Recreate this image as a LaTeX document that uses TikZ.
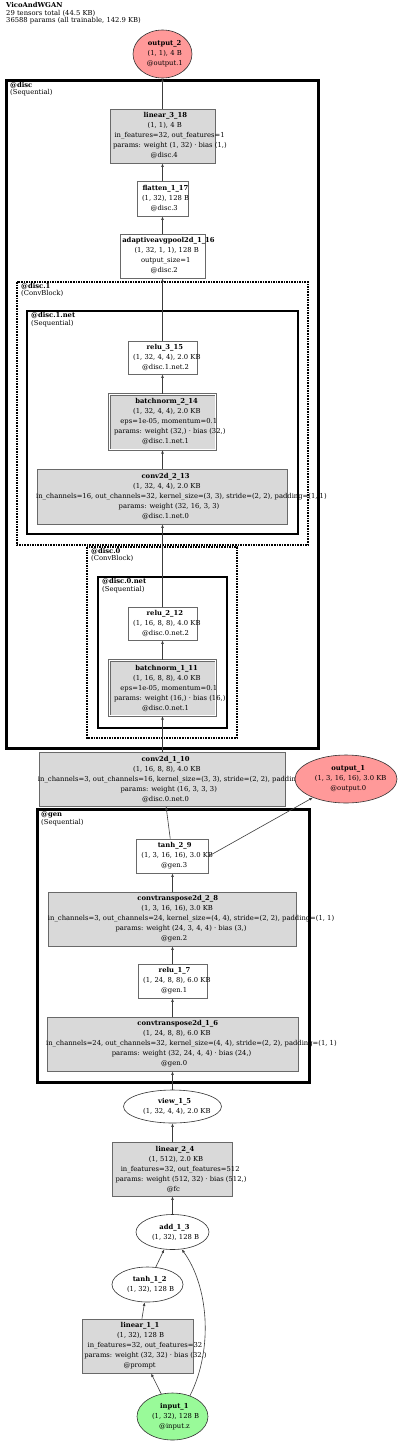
\documentclass[tikz,border=0pt]{standalone}
\usepackage{fontspec}
\setmainfont{DejaVu Serif}
\usetikzlibrary{shapes.geometric,arrows.meta}
\definecolor{boxgray}{RGB}{105,105,105}
\definecolor{paramgray}{RGB}{217,217,217}
\definecolor{outred}{RGB}{255,153,153}
\definecolor{ingreen}{RGB}{153,250,153}
\definecolor{edgecol}{RGB}{60,60,60}
\newlength\nlw
\newcommand\nline[1]{\settowidth{\nlw}{#1}\makebox[0pt][l]{\hspace{-0.435\nlw}#1}}
\tikzset{
  nfont/.style={font=\fontsize{6.8}{10}\selectfont},
  lfont/.style={font=\fontsize{6.8}{7.6}\selectfont},
  box/.style={rectangle, draw=boxgray, line width=0.7pt, fill=white, inner sep=0pt, align=center, nfont},
  pbox/.style={box, fill=paramgray},
  bnbox/.style={pbox, double=white, double distance=1.3pt, line width=0.6pt},
  ell/.style={ellipse, draw=black!80, line width=0.6pt, fill=white, inner sep=0pt, align=center, nfont},
  outell/.style={ell, fill=outred},
  inell/.style={ell, fill=ingreen},
  edge/.style={draw=edgecol, line width=0.6pt, -{Latex[length=3.6pt,width=2.8pt]}},
  clus/.style={draw=black, line width=3pt},
  subclus/.style={draw=black, line width=2pt},
  dotclus/.style={draw=black, line width=2.6pt, dash pattern=on 1.6pt off 1pt},
  clabel/.style={anchor=north west, inner sep=0pt, align=left, lfont},
}
\begin{document}
\begin{tikzpicture}[x=1pt,y=-1pt]
\useasboundingbox (0,0) rectangle (400,1443);
\fill[white] (0,0) rectangle (400,1443);

% title
\node[anchor=north west, inner sep=0pt, align=left, lfont] (title) at (6,2.2)
  {\textbf{VicoAndWGAN}\\29 tensors total (44.5 KB)\\36588 params (all trainable, 142.9 KB)};

% clusters
\draw[clus] (6,80.5) rectangle (318,748);
\node[clabel] (cdisc) at (10,82) {\textbf{@disc}\\(Sequential)};
\draw[dotclus] (17,282) rectangle (308,545);
\node[clabel] (cdisc1) at (21,283) {\textbf{@disc.1}\\(ConvBlock)};
\draw[subclus] (27,311) rectangle (298,534);
\node[clabel] (cdisc1net) at (31,312.5) {\textbf{@disc.1.net}\\(Sequential)};
\draw[dotclus] (87,547) rectangle (237,738);
\node[clabel] (cdisc0) at (91,548) {\textbf{@disc.0}\\(ConvBlock)};
\draw[subclus] (98,577) rectangle (227,728);
\node[clabel] (cdisc0net) at (102,578.5) {\textbf{@disc.0.net}\\(Sequential)};
\draw[clus] (37,809.5) rectangle (309,1082);
\node[clabel] (cgen) at (41,811.5) {\textbf{@gen}\\(Sequential)};

% nodes
\node[outell, minimum width=59pt, minimum height=48pt] (output2) at (162.5,54)
  {\nline{\textbf{output\_2}}\\\nline{(1, 1), 4 B}\\\nline{@output.1}};
\node[pbox, minimum width=105pt, minimum height=54pt] (linear318) at (162.5,136)
  {\nline{\textbf{linear\_3\_18}}\\\nline{(1, 1), 4 B}\\\nline{in\_features=32, out\_features=1}\\\nline{params: weight (1, 32) · bias (1,)}\\\nline{@disc.4}};
\node[box, minimum width=51pt, minimum height=35pt] (flatten117) at (162.5,198.5)
  {\nline{\textbf{flatten\_1\_17}}\\\nline{(1, 32), 128 B}\\\nline{@disc.3}};
\node[box, minimum width=85pt, minimum height=44pt] (pool116) at (162.5,256)
  {\nline{\textbf{adaptiveavgpool2d\_1\_16}}\\\nline{(1, 32, 1, 1), 128 B}\\\nline{output\_size=1}\\\nline{@disc.2}};
\node[box, minimum width=69pt, minimum height=33pt] (relu315) at (162.5,357.5)
  {\nline{\textbf{relu\_3\_15}}\\\nline{(1, 32, 4, 4), 2.0 KB}\\\nline{@disc.1.net.2}};
\node[bnbox, minimum width=106.5pt, minimum height=55.5pt] (bn214) at (162.5,422)
  {\nline{\textbf{batchnorm\_2\_14}}\\\nline{(1, 32, 4, 4), 2.0 KB}\\\nline{eps=1e-05, momentum=0.1}\\\nline{params: weight (32,) · bias (32,)}\\\nline{@disc.1.net.1}};
\node[pbox, minimum width=250pt, minimum height=55pt] (conv213) at (162.5,496.5)
  {\nline{\textbf{conv2d\_2\_13}}\\\nline{(1, 32, 4, 4), 2.0 KB}\\\nline{in\_channels=16, out\_channels=32, kernel\_size=(3, 3), stride=(2, 2), padding=(1, 1)}\\\nline{params: weight (32, 16, 3, 3)}\\\nline{@disc.1.net.0}};
\node[box, minimum width=69pt, minimum height=33pt] (relu212) at (162.5,623.5)
  {\nline{\textbf{relu\_2\_12}}\\\nline{(1, 16, 8, 8), 4.0 KB}\\\nline{@disc.0.net.2}};
\node[bnbox, minimum width=106.5pt, minimum height=55.5pt] (bn111) at (162.5,688)
  {\nline{\textbf{batchnorm\_1\_11}}\\\nline{(1, 16, 8, 8), 4.0 KB}\\\nline{eps=1e-05, momentum=0.1}\\\nline{params: weight (16,) · bias (16,)}\\\nline{@disc.0.net.1}};
\node[pbox, minimum width=246pt, minimum height=54pt] (conv110) at (162.5,779)
  {\nline{\textbf{conv2d\_1\_10}}\\\nline{(1, 16, 8, 8), 4.0 KB}\\\nline{in\_channels=3, out\_channels=16, kernel\_size=(3, 3), stride=(2, 2), padding=(1, 1)}\\\nline{params: weight (16, 3, 3, 3)}\\\nline{@disc.0.net.0}};
\node[outell, minimum width=102pt, minimum height=48pt] (output1) at (346,779)
  {\nline{\textbf{output\_1}}\\\nline{(1, 3, 16, 16), 3.0 KB}\\\nline{@output.0}};
\node[box, minimum width=72pt, minimum height=34pt] (tanh29) at (172.5,856)
  {\nline{\textbf{tanh\_2\_9}}\\\nline{(1, 3, 16, 16), 3.0 KB}\\\nline{@gen.3}};
\node[pbox, minimum width=248pt, minimum height=54pt] (convt28) at (172.5,919)
  {\nline{\textbf{convtranspose2d\_2\_8}}\\\nline{(1, 3, 16, 16), 3.0 KB}\\\nline{in\_channels=3, out\_channels=24, kernel\_size=(4, 4), stride=(2, 2), padding=(1, 1)}\\\nline{params: weight (24, 3, 4, 4) · bias (3,)}\\\nline{@gen.2}};
\node[box, minimum width=69pt, minimum height=34pt] (relu17) at (172.5,981)
  {\nline{\textbf{relu\_1\_7}}\\\nline{(1, 24, 8, 8), 6.0 KB}\\\nline{@gen.1}};
\node[pbox, minimum width=251pt, minimum height=54pt] (convt16) at (172.5,1044)
  {\nline{\textbf{convtranspose2d\_1\_6}}\\\nline{(1, 24, 8, 8), 6.0 KB}\\\nline{in\_channels=24, out\_channels=32, kernel\_size=(4, 4), stride=(2, 2), padding=(1, 1)}\\\nline{params: weight (32, 24, 4, 4) · bias (24,)}\\\nline{@gen.0}};
\node[ell, minimum width=98pt, minimum height=33pt] (view15) at (172.5,1106.5)
  {\nline{\textbf{view\_1\_5}}\\\nline{(1, 32, 4, 4), 2.0 KB}};
\node[pbox, minimum width=120pt, minimum height=54pt] (linear24) at (172.5,1169)
  {\nline{\textbf{linear\_2\_4}}\\\nline{(1, 512), 2.0 KB}\\\nline{in\_features=32, out\_features=512}\\\nline{params: weight (512, 32) · bias (512,)}\\\nline{@fc}};
\node[ell, minimum width=73pt, minimum height=35pt] (add13) at (172.5,1232)
  {\nline{\textbf{add\_1\_3}}\\\nline{(1, 32), 128 B}};
\node[ell, minimum width=71pt, minimum height=35pt] (tanh12) at (147.5,1284.5)
  {\nline{\textbf{tanh\_1\_2}}\\\nline{(1, 32), 128 B}};
\node[pbox, minimum width=111pt, minimum height=54pt] (linear11) at (137.5,1346)
  {\nline{\textbf{linear\_1\_1}}\\\nline{(1, 32), 128 B}\\\nline{in\_features=32, out\_features=32}\\\nline{params: weight (32, 32) · bias (32,)}\\\nline{@prompt}};
\node[inell, minimum width=71pt, minimum height=47pt] (input1) at (172.5,1416.5)
  {\nline{\textbf{input\_1}}\\\nline{(1, 32), 128 B}\\\nline{@input.z}};

% edges
\draw[edge] (linear318) -- (output2);
\draw[edge] (flatten117) -- (linear318);
\draw[edge] (pool116) -- (flatten117);
\draw[edge] (relu315) -- (pool116);
\draw[edge] (bn214) -- (relu315);
\draw[edge] (conv213) -- (bn214);
\draw[edge] (relu212) -- (conv213);
\draw[edge] (bn111) -- (relu212);
\draw[edge] (conv110) -- (bn111);
\draw[edge] (tanh29) -- (conv110);
\draw[edge] (tanh29.east) -- (output1);
\draw[edge] (convt28) -- (tanh29);
\draw[edge] (relu17) -- (convt28);
\draw[edge] (convt16) -- (relu17);
\draw[edge] (view15) -- (convt16);
\draw[edge] (linear24) -- (view15);
\draw[edge] (add13) -- (linear24);
\draw[edge] (tanh12) -- (add13);
\draw[edge] (linear11) -- (tanh12);
\draw[edge] (input1) -- (linear11);
\draw[edge] (input1.50) .. controls (214,1348) and (208,1285) .. (add13.-62);
\end{tikzpicture}
\end{document}
